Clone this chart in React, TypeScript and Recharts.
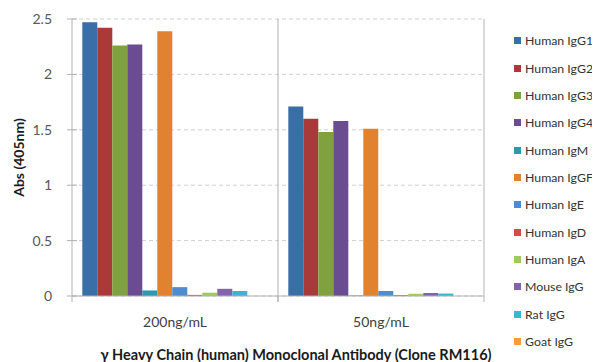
import React from 'react';
import { BarChart, Bar, XAxis, YAxis, CartesianGrid, Legend, Label } from 'recharts';

const categories = ['200ng/mL', '50ng/mL'];
const seriesNames = [
  'Human IgG1', 'Human IgG2', 'Human IgG3', 'Human IgG4', 'Human IgM', 'Human IgGFc',
  'Human IgE', 'Human IgD', 'Human IgA', 'Mouse IgG', 'Rat IgG', 'Goat IgG',
];
const values200 = [2.47, 2.42, 2.26, 2.27, 0.05, 2.39, 0.08, 0.01, 0.03, 0.065, 0.045, 0];
const values50 = [1.71, 1.6, 1.48, 1.58, 0.005, 1.51, 0.045, 0.008, 0.02, 0.027, 0.022, 0];
const yTicks = [0, 0.5, 1, 1.5, 2, 2.5];
const colors = [
  '#3A6EA6', '#A83A3A', '#7FA23E', '#6A4C91', '#2D98AE', '#E0822F',
  '#4C8DD0', '#D5494B', '#9FCB5C', '#8463AE', '#3FB4D2', '#F79B3E',
];

const seriesValues = [values200, values50];
const data = categories.map((cat, ci) => {
  const row: any = { name: cat };
  seriesNames.forEach((s, si) => { row[s] = seriesValues[ci][si]; });
  return row;
});

const FONT = 'Lato, "Open Sans", sans-serif';
const AXIS = '#b3b3b3';

const YTick = (props: any) => {
  const { x, y, payload } = props;
  return (
    <g>
      <line x1={x + 15} x2={x + 25} y1={y} y2={y} stroke={AXIS} />
      <text x={x} y={y} dy="0.35em" textAnchor="end" fill="#595959" fontSize={14} fontFamily={FONT}>
        {payload.value}
      </text>
    </g>
  );
};

const XTick = (props: any) => {
  const { x, y, payload, width, visibleTicksCount } = props;
  const half = payload.offset || width / visibleTicksCount / 2;
  const axisY = y - 21;
  return (
    <g>
      <line x1={x - half} x2={x - half} y1={axisY} y2={axisY + 6} stroke={AXIS} />
      <line x1={x + half} x2={x + half} y1={axisY} y2={axisY + 6} stroke={AXIS} />
      <text x={x} y={y} dy="0.71em" textAnchor="middle" fill="#404040" fontSize={14} fontFamily={FONT}>
        {payload.value}
      </text>
    </g>
  );
};

const LegendContent = () => (
  <ul style={{ listStyle: 'none', margin: 0, padding: 0 }}>
    {seriesNames.map((n, i) => (
      <li key={n} style={{ height: 27.36, display: 'flex', alignItems: 'center', fontSize: 12.3, color: '#333333', fontFamily: FONT, whiteSpace: 'nowrap' }}>
        <span style={{ display: 'inline-block', width: 7, height: 7, background: colors[i], marginRight: 4, flexShrink: 0 }} />
        {n}
      </li>
    ))}
  </ul>
);

export default function App() {
  return (
    <BarChart
      width={592}
      height={354}
      data={data}
      margin={{ top: 11, right: 116, left: 0, bottom: 0 }}
      barCategoryGap="5%"
      barGap={0}
      style={{ fontFamily: FONT }}
    >
      <CartesianGrid vertical={false} stroke="#d0d0d0" strokeDasharray="4 3" />
      <CartesianGrid
        horizontal={false}
        stroke={AXIS}
        verticalCoordinatesGenerator={({ offset }: any) => [offset.left + offset.width / 2, offset.left + offset.width]}
      />
      <XAxis
        dataKey="name"
        height={66}
        stroke={AXIS}
        tickLine={false}
        tickSize={0}
        tickMargin={21}
        tick={<XTick />}
      >
        <Label
          value="γ Heavy Chain (human) Monoclonal Antibody (Clone RM116)"
          position="insideBottom"
          offset={2}
          dx={18}
          fill="#1a1a1a"
          fontSize={14.5}
          fontWeight="bold"
          fontFamily={FONT}
        />
      </XAxis>
      <YAxis
        width={64}
        domain={[0, 2.5]}
        ticks={yTicks}
        stroke={AXIS}
        tickLine={false}
        tickSize={0}
        tickMargin={20}
        tick={<YTick />}
      >
        <Label
          content={({ viewBox }: any) => (
            <text
              x={10}
              y={viewBox.y + viewBox.height / 2}
              transform={`rotate(-90, 10, ${viewBox.y + viewBox.height / 2})`}
              textAnchor="middle"
              dominantBaseline="central"
              fontSize={14}
              fontWeight="bold"
              fill="#1a1a1a"
              fontFamily={FONT}
            >
              Abs (405nm)
            </text>
          )}
        />
      </YAxis>
      <Legend
        layout="vertical"
        align="center"
        verticalAlign="middle"
        wrapperStyle={{ top: 19, left: 506, width: 86 }}
        content={<LegendContent />}
      />
      {seriesNames.map((s, i) => (
        <Bar key={s} dataKey={s} fill={colors[i]} isAnimationActive={false} />
      ))}
    </BarChart>
  );
}
